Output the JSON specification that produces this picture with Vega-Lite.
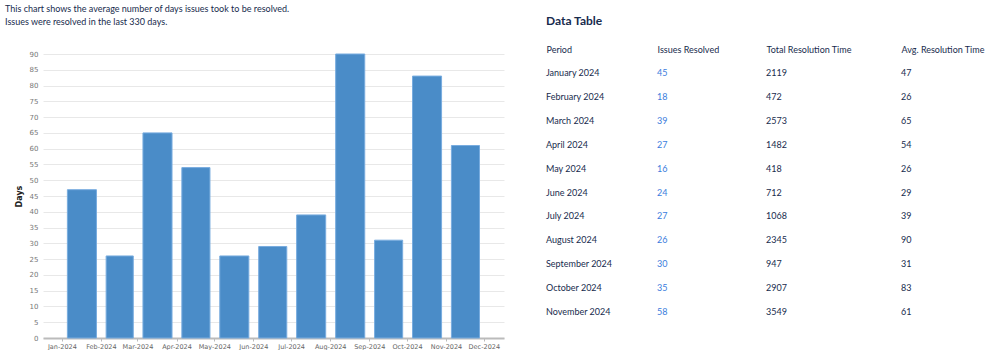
{
  "$schema": "https://vega.github.io/schema/vega-lite/v6.json",
  "padding": {"left": 5, "top": 5, "right": 0, "bottom": 0},
  "background": "white",
  "bounds": "flush",
  "spacing": 42,
  "resolve": {"scale": {"x": "independent", "y": "independent"}},
  "config": {"view": {"stroke": null}},
  "datasets": {
    "rows": [
      {"month": "2024-01-01", "Period": "January 2024", "Issues": 45, "Total": 2119, "Avg": 47},
      {"month": "2024-02-01", "Period": "February 2024", "Issues": 18, "Total": 472, "Avg": 26},
      {"month": "2024-03-01", "Period": "March 2024", "Issues": 39, "Total": 2573, "Avg": 65},
      {"month": "2024-04-01", "Period": "April 2024", "Issues": 27, "Total": 1482, "Avg": 54},
      {"month": "2024-05-01", "Period": "May 2024", "Issues": 16, "Total": 418, "Avg": 26},
      {"month": "2024-06-01", "Period": "June 2024", "Issues": 24, "Total": 712, "Avg": 29},
      {"month": "2024-07-01", "Period": "July 2024", "Issues": 27, "Total": 1068, "Avg": 39},
      {"month": "2024-08-01", "Period": "August 2024", "Issues": 26, "Total": 2345, "Avg": 90},
      {"month": "2024-09-01", "Period": "September 2024", "Issues": 30, "Total": 947, "Avg": 31},
      {"month": "2024-10-01", "Period": "October 2024", "Issues": 35, "Total": 2907, "Avg": 83},
      {"month": "2024-11-01", "Period": "November 2024", "Issues": 58, "Total": 3549, "Avg": 61}
    ]
  },
  "hconcat": [
    {
      "width": 461,
      "height": 284,
      "title": {
        "text": ["This chart shows the average number of days issues took to be resolved.", "Issues were resolved in the last 330 days."],
        "anchor": "start",
        "frame": "bounds",
        "dx": -10,
        "font": "Lato",
        "fontSize": 9,
        "fontWeight": "normal",
        "color": "#172b4d",
        "lineHeight": 13,
        "offset": 23
      },
      "data": {"name": "rows"},
      "mark": {"type": "bar", "color": "#4a8cc8", "stroke": "#78acdf", "strokeWidth": 1, "width": {"band": 0.77}},
      "encoding": {
        "x": {
          "field": "month",
          "type": "temporal",
          "timeUnit": "utcyearmonth",
          "scale": {"type": "utc", "domain": [{"year": 2023, "month": 12, "date": 17, "utc": true}, {"year": 2024, "month": 12, "date": 17, "utc": true}]},
          "axis": {
            "title": null,
            "format": "%b-%Y",
            "tickCount": "month",
            "labelFont": "DejaVu Sans",
            "labelFontSize": 6.5,
            "labelColor": "#666666",
            "grid": false,
            "domainColor": "#bbbbbb",
            "domainWidth": 2,
            "tickColor": "#bbbbbb",
            "tickSize": 3,
            "labelPadding": 2,
            "labelOverlap": false,
            "labelFlush": false
          }
        },
        "y": {
          "field": "Avg",
          "type": "quantitative",
          "scale": {"domain": [0, 90], "nice": false},
          "axis": {
            "title": "Days",
            "values": [0, 5, 10, 15, 20, 25, 30, 35, 40, 45, 50, 55, 60, 65, 70, 75, 80, 85, 90],
            "labelFont": "DejaVu Sans",
            "labelFontSize": 7,
            "labelColor": "#777777",
            "gridColor": "#e8e8e8",
            "domain": false,
            "ticks": false,
            "labelPadding": 5,
            "titleFont": "DejaVu Sans",
            "titleFontSize": 8,
            "titleFontWeight": "bold",
            "titleColor": "#222222",
            "titlePadding": 6
          }
        }
      }
    },
    {
      "title": {
        "text": "Data Table",
        "anchor": "start",
        "font": "Lato",
        "fontSize": 12,
        "fontWeight": "bold",
        "color": "#172b4d",
        "offset": 17
      },
      "bounds": "flush",
      "spacing": 0,
      "resolve": {"scale": {"x": "independent", "y": "independent"}},
      "data": {"name": "rows"},
      "hconcat": [
        {
          "width": 111,
          "height": 277,
          "mark": {"type": "text", "align": "left", "baseline": "middle", "font": "Lato", "fontSize": 9, "color": "#172b4d"},
          "encoding": {
            "x": {"datum": "Period", "type": "nominal", "scale": {"type": "point", "padding": 0, "align": 0}, "axis": {"orient": "top", "title": null, "labelAlign": "left", "labelAngle": 0, "domain": false, "ticks": false, "labelPadding": 0, "labelFont": "Lato", "labelFontSize": 9, "labelColor": "#172b4d"}},
            "y": {"field": "Period", "type": "nominal", "sort": null, "scale": {"type": "point", "padding": 0.795}, "axis": null},
            "text": {"field": "Period"}
          }
        },
        {
          "width": 109,
          "height": 277,
          "mark": {"type": "text", "align": "left", "baseline": "middle", "font": "Lato", "fontSize": 9, "color": "#3b7ddd"},
          "encoding": {
            "x": {"datum": "Issues Resolved", "type": "nominal", "scale": {"type": "point", "padding": 0, "align": 0}, "axis": {"orient": "top", "title": null, "labelAlign": "left", "labelAngle": 0, "domain": false, "ticks": false, "labelPadding": 0, "labelFont": "Lato", "labelFontSize": 9, "labelColor": "#172b4d"}},
            "y": {"field": "Period", "type": "nominal", "sort": null, "scale": {"type": "point", "padding": 0.795}, "axis": null},
            "text": {"field": "Issues"}
          }
        },
        {
          "width": 135,
          "height": 277,
          "mark": {"type": "text", "align": "left", "baseline": "middle", "font": "Lato", "fontSize": 9, "color": "#172b4d"},
          "encoding": {
            "x": {"datum": "Total Resolution Time", "type": "nominal", "scale": {"type": "point", "padding": 0, "align": 0}, "axis": {"orient": "top", "title": null, "labelAlign": "left", "labelAngle": 0, "domain": false, "ticks": false, "labelPadding": 0, "labelFont": "Lato", "labelFontSize": 9, "labelColor": "#172b4d"}},
            "y": {"field": "Period", "type": "nominal", "sort": null, "scale": {"type": "point", "padding": 0.795}, "axis": null},
            "text": {"field": "Total"}
          }
        },
        {
          "width": 94,
          "height": 277,
          "mark": {"type": "text", "align": "left", "baseline": "middle", "font": "Lato", "fontSize": 9, "color": "#172b4d"},
          "encoding": {
            "x": {"datum": "Avg. Resolution Time", "type": "nominal", "scale": {"type": "point", "padding": 0, "align": 0}, "axis": {"orient": "top", "title": null, "labelAlign": "left", "labelAngle": 0, "domain": false, "ticks": false, "labelPadding": 0, "labelFont": "Lato", "labelFontSize": 9, "labelColor": "#172b4d"}},
            "y": {"field": "Period", "type": "nominal", "sort": null, "scale": {"type": "point", "padding": 0.795}, "axis": null},
            "text": {"field": "Avg"}
          }
        }
      ]
    }
  ]
}
